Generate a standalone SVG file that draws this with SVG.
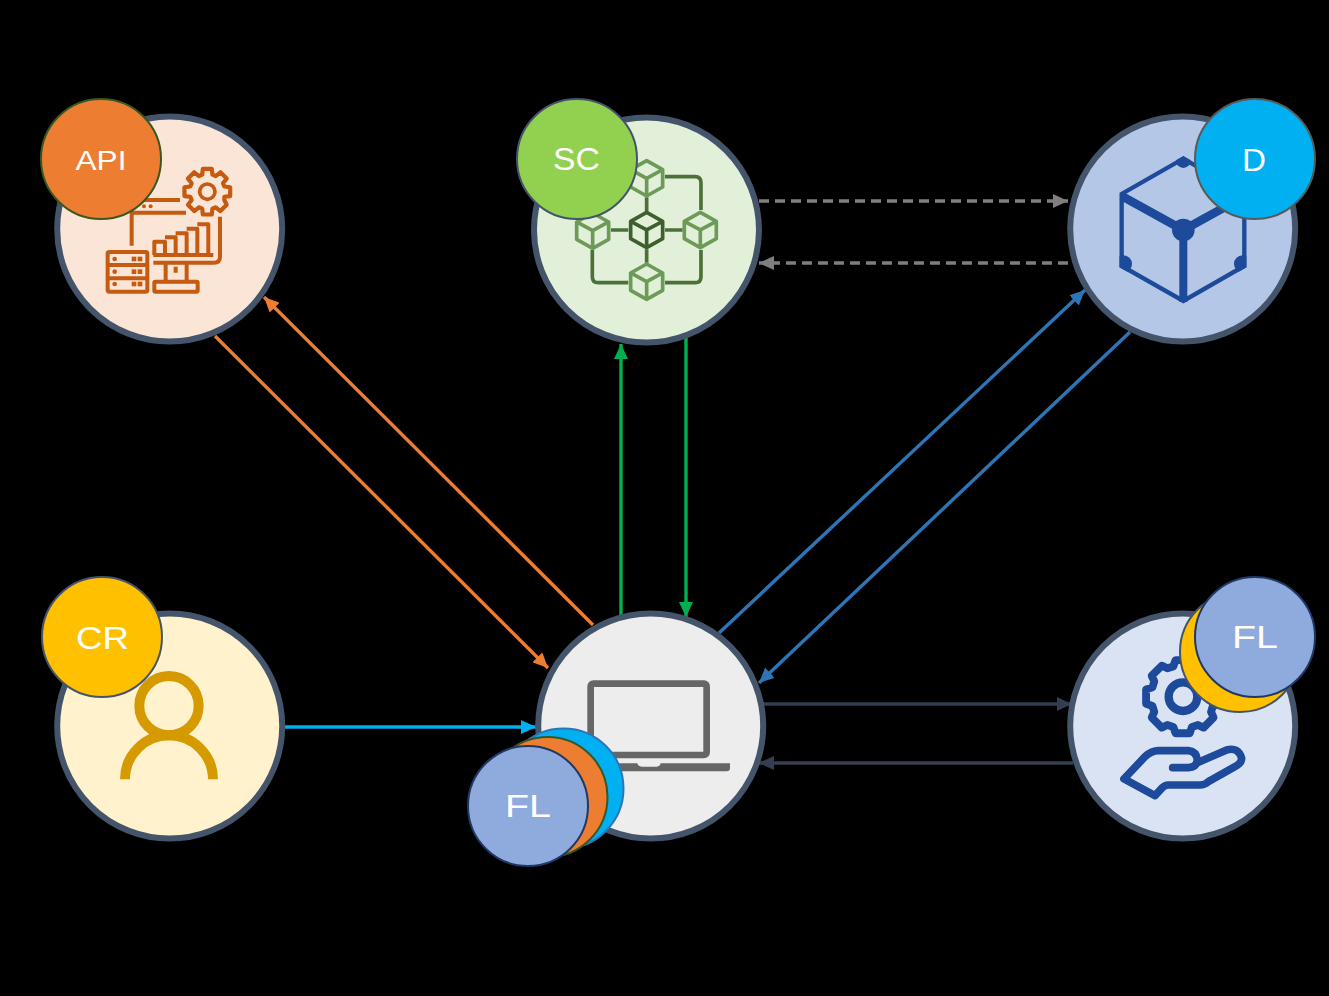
<svg xmlns="http://www.w3.org/2000/svg" xmlns:xlink="http://www.w3.org/1999/xlink" width="1329" height="996" viewBox="0 0 1329 996">
<style>
.main{stroke:#44546A;stroke-width:6}
.badge{stroke-width:2}
.lbl{font-family:"Liberation Sans",Arial,sans-serif;font-size:31px;fill:#fff}
.c{fill:none;stroke-width:3.4}
.ic{fill:none;stroke-linecap:butt;stroke-linejoin:round}
</style>
<defs>
<marker id="mO" markerUnits="userSpaceOnUse" markerWidth="16" markerHeight="14" refX="15" refY="7" orient="auto"><path d="M0 0L15 7L0 14z" fill="#ED7D31"/></marker>
<marker id="mG" markerUnits="userSpaceOnUse" markerWidth="16" markerHeight="14" refX="15" refY="7" orient="auto"><path d="M0 0L15 7L0 14z" fill="#00B050"/></marker>
<marker id="mB" markerUnits="userSpaceOnUse" markerWidth="16" markerHeight="14" refX="15" refY="7" orient="auto"><path d="M0 0L15 7L0 14z" fill="#2E75B6"/></marker>
<marker id="mC" markerUnits="userSpaceOnUse" markerWidth="16" markerHeight="14" refX="15" refY="7" orient="auto"><path d="M0 0L15 7L0 14z" fill="#00B0F0"/></marker>
<marker id="mD" markerUnits="userSpaceOnUse" markerWidth="16" markerHeight="14" refX="15" refY="7" orient="auto"><path d="M0 0L15 7L0 14z" fill="#333F50"/></marker>
<marker id="mY" markerUnits="userSpaceOnUse" markerWidth="16" markerHeight="14" refX="15" refY="7" orient="auto"><path d="M0 0L15 7L0 14z" fill="#7F7F7F"/></marker>
<polygon id="gear" points="73,36 83,56 56,83 36,67 22,73 19,98 -19,98 -22,73 -36,67 -56,83 -83,56 -67,36 -73,22 -98,19 -98,-19 -73,-22 -67,-36 -83,-56 -56,-83 -36,-67 -22,-73 -19,-98 19,-98 22,-73 36,-67 56,-83 83,-56 67,-36 73,-22 98,-19 98,19 73,22"/>
<polygon id="gear2" points="76,41 83,56 56,83 41,76 25,81 19,98 -19,98 -25,81 -41,76 -56,83 -83,56 -76,41 -81,25 -98,19 -98,-19 -81,-25 -76,-41 -83,-56 -56,-83 -41,-76 -25,-81 -19,-98 19,-98 25,-81 41,-76 56,-83 83,-56 76,-41 81,-25 98,-19 98,19 81,25"/>
<g id="cube" fill="none" stroke-linejoin="round" stroke-width="11"><polygon points="0,-53 48,-26 48,26 0,53 -48,26 -48,-26"/><path d="M-48,-26L0,0L48,-26M0,0V53"/></g>
<clipPath id="hexclip"><polygon points="370,198 560,308 560,532 370,640 178,532 178,308"/></clipPath>
</defs>
<rect width="1329" height="996" fill="#000"/>
<g id="connectors">
<line class="c" x1="593" y1="625" x2="264" y2="297" stroke="#ED7D31" marker-end="url(#mO)"/>
<line class="c" x1="215" y1="336" x2="548" y2="668" stroke="#ED7D31" marker-end="url(#mO)"/>
<line class="c" x1="621" y1="616" x2="621" y2="344" stroke="#00B050" marker-end="url(#mG)"/>
<line class="c" x1="686" y1="338" x2="686" y2="617" stroke="#00B050" marker-end="url(#mG)"/>
<line class="c" x1="719" y1="633" x2="1085" y2="290" stroke="#2E75B6" marker-end="url(#mB)"/>
<line class="c" x1="1130" y1="332" x2="759" y2="683" stroke="#2E75B6" marker-end="url(#mB)"/>
<line class="c" x1="285" y1="727" x2="536" y2="727" stroke="#00B0F0" marker-end="url(#mC)"/>
<line class="c" x1="763" y1="704" x2="1072" y2="704" stroke="#333F50" marker-end="url(#mD)"/>
<line class="c" x1="1073" y1="763" x2="759" y2="763" stroke="#333F50" marker-end="url(#mD)"/>
<line class="c" x1="759" y1="201" x2="1068" y2="201" stroke="#7F7F7F" stroke-dasharray="10 6" marker-end="url(#mY)"/>
<line class="c" x1="1068" y1="263" x2="759" y2="263" stroke="#7F7F7F" stroke-dasharray="10 6" marker-end="url(#mY)"/>
</g>
<g id="node-api">
<circle class="main" cx="169.7" cy="229" r="112.5" fill="#FBE5D6"/>
<g transform="translate(30 90) scale(.3333)" class="ic" stroke="#C55A11" stroke-width="12">
<use xlink:href="#gear" href="#gear" transform="translate(532 305) scale(.7)" stroke-width="18"/>
<circle cx="532" cy="305" r="23" stroke-width="11"/>
<path d="M340 330H450M300 368H468M305 368V467"/>
<circle cx="342" cy="349" r="6" fill="#C55A11" stroke="none"/><circle cx="362" cy="349" r="6" fill="#C55A11" stroke="none"/>
<rect x="233" y="486" width="119" height="119" rx="5"/>
<path d="M233 525H352M233 565H352"/>
<g fill="#C55A11" stroke="none"><circle cx="254" cy="507" r="7"/><circle cx="254" cy="545" r="7"/><circle cx="254" cy="582" r="7"/><rect x="305" y="500" width="14" height="14"/><rect x="323" y="500" width="14" height="14"/><rect x="305" y="538" width="14" height="14"/><rect x="323" y="538" width="14" height="14"/><rect x="305" y="575" width="14" height="14"/><rect x="323" y="575" width="14" height="14"/></g>
<path d="M373 495V455H405V495M405 442H437V495M437 430H470V495M470 416H502V495M502 403H535V495M370 495H550"/>
<path d="M370 518H552Q570 518 570 500V380M407 518V575M470 518V575M437 530V548"/>
<rect x="373" y="575" width="130" height="30" rx="3"/>
</g>
<circle class="badge" cx="101" cy="159" r="60" fill="#ED7D31" stroke="#385723"/>
<text class="lbl" x="75.5" y="170" textLength="51" lengthAdjust="spacingAndGlyphs" style="font-size:27px">API</text>
</g>
<g id="node-sc">
<circle class="main" cx="646.5" cy="230" r="112.5" fill="#E2F0D9"/>
<g transform="translate(510 90) scale(.3333)">
<g class="ic" stroke="#4C7038" stroke-width="11">
<path d="M465 260H555Q573 260 573 278V360M573 480V560Q573 578 555 578H465M355 578H265Q247 578 247 560V480M303 420H355M465 420H518M410 322V365M410 478V518"/>
</g>
<g stroke="#6C9A58">
<use xlink:href="#cube" href="#cube" transform="translate(410 265)"/>
<use xlink:href="#cube" href="#cube" transform="translate(248 422)"/>
<use xlink:href="#cube" href="#cube" transform="translate(571 420)"/>
<use xlink:href="#cube" href="#cube" transform="translate(410 575)"/>
</g>
<use xlink:href="#cube" href="#cube" transform="translate(410 420)" stroke="#3F5F2F"/>
</g>
<circle class="badge" cx="577" cy="159" r="60" fill="#92D050" stroke="#44546A"/>
<text class="lbl" x="553" y="170" textLength="47" lengthAdjust="spacingAndGlyphs">SC</text>
</g>
<g id="node-d">
<circle class="main" cx="1182.7" cy="229" r="112.5" fill="#B4C7E7"/>
<g transform="translate(1060 90) scale(.3333)" fill="none" stroke="#1D4A9A">
<polygon points="370,206 553,312 553,528 370,633 185,528 185,312" stroke-width="13" stroke-linejoin="miter"/>
<g clip-path="url(#hexclip)" fill="#1D4A9A" stroke="none"><circle cx="370" cy="212" r="22"/><circle cx="190" cy="522" r="26"/><circle cx="548" cy="522" r="26"/></g>
<path d="M185 318L370 420L555 318" stroke-width="26"/>
<path d="M370 420V636" stroke-width="24"/>
<circle cx="370" cy="420" r="34" fill="#1D4A9A" stroke="none"/>
</g>
<circle class="badge" cx="1255" cy="159" r="60" fill="#00B0F0" stroke="#595959"/>
<text class="lbl" x="1242" y="170.500" textLength="24" lengthAdjust="spacingAndGlyphs">D</text>
</g>
<g id="node-client">
<circle class="main" cx="650.7" cy="726" r="112.5" fill="#EDEDED"/>
<g transform="translate(460 600) scale(.3333)">
<rect x="392" y="251" width="348" height="214" rx="8" fill="none" stroke="#666" stroke-width="20"/>
<path d="M320 490H532Q535 500 545 500H590Q600 500 602 490H810V505Q810 514 800 514H320z" fill="#666"/>
</g>
<circle class="badge" cx="563.5" cy="788.500" r="60" fill="#00B0F0" stroke="#2E75B6"/>
<circle class="badge" cx="547.5" cy="797" r="60" fill="#ED7D31" stroke="#385723"/>
<circle class="badge" cx="528" cy="806" r="60" fill="#8FAADC" stroke="#1F3864"/>
<text class="lbl" x="505" y="817" textLength="46" lengthAdjust="spacingAndGlyphs">FL</text>
</g>
<g id="node-fl">
<circle class="main" cx="1182.7" cy="726" r="112.5" fill="#DAE3F3"/>
<g transform="translate(1060 570) scale(.3333)" stroke="#1D4A9A" fill="none" stroke-linejoin="round" stroke-linecap="round">
<use xlink:href="#gear2" href="#gear2" transform="translate(368 380) scale(1.12)" stroke-width="21"/>
<circle cx="369" cy="380" r="43" stroke-width="25"/>
<path d="M338 593H385Q410 592 412 570Q410 545 385 542H295Q275 542 255 560L192 627L285 677L305 655Q315 645 325 645H420Q435 645 445 635L525 590Q545 580 545 565Q535 530 500 540L412 578" stroke-width="23"/>
</g>
<circle class="badge" cx="1240" cy="652" r="60" fill="#FFC000" stroke="#44546A"/>
<circle class="badge" cx="1255" cy="637" r="60" fill="#8FAADC" stroke="#1F3864"/>
<text class="lbl" x="1232" y="648" textLength="46" lengthAdjust="spacingAndGlyphs">FL</text>
</g>
<g id="node-cr">
<circle class="main" cx="169.7" cy="726" r="112.5" fill="#FFF2CC"/>
<g transform="translate(30 570) scale(.3333)" fill="none" stroke="#D49A00" stroke-width="30">
<circle cx="417" cy="407" r="89"/>
<path d="M285 628A132 132 0 0 1 549 628"/>
</g>
<circle class="badge" cx="102" cy="637" r="60" fill="#FFC000" stroke="#44546A"/>
<text class="lbl" x="76" y="648.500" textLength="53" lengthAdjust="spacingAndGlyphs">CR</text>
</g>
</svg>
